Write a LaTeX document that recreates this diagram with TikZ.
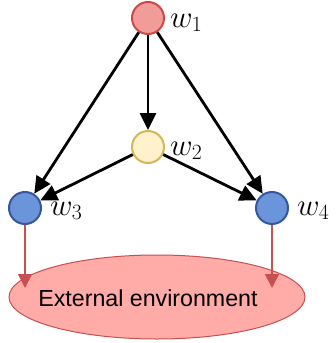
\RequirePackage{fix-cm}
\documentclass[tikz,border=0pt]{standalone}
\usepackage{fontspec}
\setsansfont{Liberation Sans}
\usetikzlibrary{arrows.meta,shapes.geometric}
\definecolor{redfill}{RGB}{241,156,153}
\definecolor{redline}{RGB}{206,74,72}
\definecolor{yelfill}{RGB}{255,242,204}
\definecolor{yelline}{RGB}{214,182,86}
\definecolor{bluefill}{RGB}{106,149,219}
\definecolor{blueline}{RGB}{56,86,160}
\definecolor{envfill}{RGB}{255,171,168}
\definecolor{envline}{RGB}{200,80,80}
\begin{document}
\begin{tikzpicture}[x=1pt,y=-1pt,
  vert/.style={circle,minimum size=32pt,inner sep=0pt,line width=2pt},
  lab/.style={anchor=base west,inner sep=0pt,font=\fontsize{31}{34}\selectfont},
  blk/.style={line width=2.8pt,-{Triangle[length=17pt,width=16pt]}},
  redarr/.style={draw=envline,line width=1.8pt,-{Triangle[length=14pt,width=14pt]}}]
\useasboundingbox (0,0) rectangle (335,343);
\node[ellipse,fill=envfill,draw=envline,line width=1pt,minimum width=296pt,minimum height=84pt,inner sep=0pt] (env) at (157,297) {};
\node[anchor=base,inner sep=0pt,font=\sffamily\fontsize{23.2}{26}\selectfont] (envtxt) at (148,306.5) {External environment};
\node[vert,fill=redfill,draw=redline] (w1) at (148,18) {};
\node[vert,fill=yelfill,draw=yelline] (w2) at (148,147) {};
\node[vert,fill=bluefill,draw=blueline] (w3) at (25,208) {};
\node[vert,fill=bluefill,draw=blueline] (w4) at (272,208) {};
\node[lab] (l1) at (170,27) {$w_1$};
\node[lab] (l2) at (170,155) {$w_2$};
\node[lab] (l3) at (50,215) {$w_3$};
\node[lab] (l4) at (297,215) {$w_4$};
\draw[blk] (w1) -- (w2);
\draw[blk] (w1) -- (w3);
\draw[blk] (w1) -- (w4);
\draw[blk] (w2) -- (w3);
\draw[blk] (w2) -- (w4);
\coordinate (e3) at (25,288);
\coordinate (e4) at (272,288);
\draw[redarr] (w3) -- (e3);
\draw[redarr] (w4) -- (e4);
\end{tikzpicture}
\end{document}
